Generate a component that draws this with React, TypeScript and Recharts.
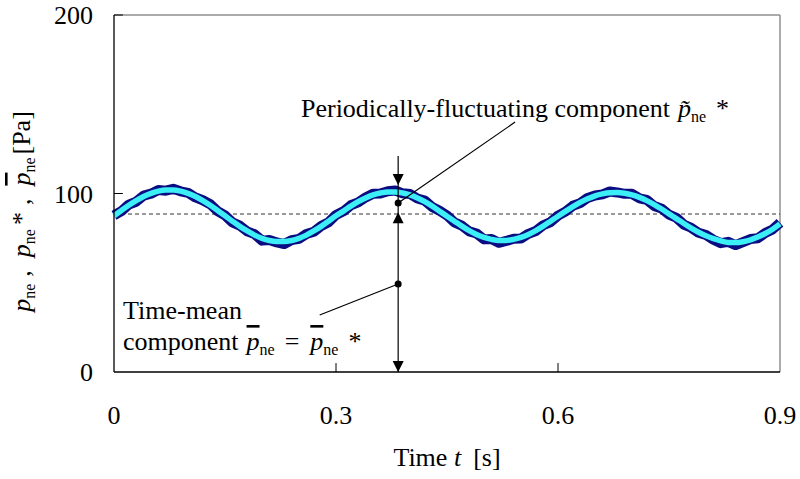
import React from 'react';
import { ComposedChart, Line, Scatter, XAxis, YAxis, ReferenceLine } from 'recharts';

const FONT = "'Liberation Serif', 'Times New Roman', serif";

// sample times [s]
const timeS = [
  0, 0.01, 0.02, 0.03, 0.04, 0.05, 0.06, 0.07, 0.08, 0.09,
  0.1, 0.11, 0.12, 0.13, 0.14, 0.15, 0.16, 0.17, 0.18, 0.19,
  0.2, 0.21, 0.22, 0.23, 0.24, 0.25, 0.26, 0.27, 0.28, 0.29,
  0.3, 0.31, 0.32, 0.33, 0.34, 0.35, 0.36, 0.37, 0.38, 0.39,
  0.4, 0.41, 0.42, 0.43, 0.44, 0.45, 0.46, 0.47, 0.48, 0.49,
  0.5, 0.51, 0.52, 0.53, 0.54, 0.55, 0.56, 0.57, 0.58, 0.59,
  0.6, 0.61, 0.62, 0.63, 0.64, 0.65, 0.66, 0.67, 0.68, 0.69,
  0.7, 0.71, 0.72, 0.73, 0.74, 0.75, 0.76, 0.77, 0.78, 0.79,
  0.8, 0.81, 0.82, 0.83, 0.84, 0.85, 0.86, 0.87, 0.88, 0.89,
  0.9,
];

// measured p_ne [Pa] (noisy, dark blue)
const rawPressure = [
  87.8, 90.1, 93.8, 95.4, 98.8, 99.9, 101.9, 101.6, 102.6, 101.2,
  100.4, 97.8, 96.2, 94.0, 90.1, 87.8, 83.8, 82.0, 78.8, 77.2,
  73.6, 74.0, 72.6, 71.7, 73.9, 74.6, 77.3, 78.6, 81.8, 83.9,
  88.0, 90.0, 93.4, 95.0, 97.8, 99.9, 100.0, 101.3, 101.7, 100.1,
  99.7, 97.2, 96.0, 92.4, 90.3, 87.7, 83.8, 82.0, 78.8, 77.6,
  74.3, 74.5, 72.4, 73.4, 74.7, 74.8, 77.4, 79.0, 82.2, 84.0,
  87.6, 89.8, 93.1, 94.6, 97.5, 98.9, 99.5, 101.1, 100.6, 99.8,
  99.8, 97.3, 96.4, 93.0, 91.5, 88.2, 86.4, 82.6, 80.8, 78.0,
  76.7, 74.1, 72.2, 72.9, 71.1, 72.8, 74.5, 74.9, 77.9, 79.9,
  83.6,
];

// phase-averaged p_ne* [Pa] (cyan)
const smoothPressure = [
  87.5, 90.5, 93.4, 96.0, 98.3, 100.1, 101.3, 101.9, 101.9, 101.3,
  100.1, 98.3, 96.0, 93.4, 90.5, 87.5, 84.5, 81.6, 79.0, 76.7,
  74.9, 73.7, 73.1, 73.1, 73.7, 74.9, 76.7, 79.0, 81.6, 84.5,
  87.5, 90.1, 92.9, 95.4, 97.5, 99.2, 100.3, 100.9, 100.9, 100.3,
  99.2, 97.5, 95.4, 92.9, 90.1, 87.3, 84.5, 81.7, 79.2, 77.1,
  75.4, 74.3, 73.7, 73.7, 74.3, 75.4, 77.1, 79.2, 81.7, 84.5,
  87.3, 90.0, 92.6, 95.0, 97.0, 98.7, 99.8, 100.4, 100.5, 100.1,
  99.2, 97.8, 96.0, 93.8, 91.3, 88.6, 85.9, 83.2, 80.6, 78.3,
  76.3, 74.7, 73.5, 72.6, 72.5, 73.0, 74.0, 75.6, 77.6, 80.0,
  83.0,
];

const meanPressure = 88.5;
const xTicks = [0, 0.3, 0.6, 0.9];
const yTicks = [0, 100, 200];

// annotation geometry in data units
const markerTime = 0.384;
const markerTop = 121;
const arrowTips = [
  { t: markerTime, v: 104.8, dir: 'down' },
  { t: markerTime, v: 89.5, dir: 'up' },
  { t: markerTime, v: 0, dir: 'down' },
];
const dots = [
  { t: markerTime, v: 94.7 },
  { t: markerTime, v: 49.3 },
];
const leaderUpper = [{ x: markerTime, y: 94.7 }, { x: 0.542, y: 140 }];
const leaderLower = [{ x: markerTime, y: 49.3 }, { x: 0.278, y: 31.9 }];
const textAnchors = [
  { t: 0.2527, v: 142.9, id: 'periodic' },
  { t: 0.0122, v: 29.7, id: 'mean1' },
  { t: 0.0122, v: 12.3, id: 'mean2' },
];

const series = timeS.map((t, i) => ({ t, raw: rawPressure[i], smooth: smoothPressure[i] }));

const ArrowShape = (props: any) => {
  const { cx, cy, payload } = props;
  const h = 11;
  const w = 5.5;
  const pts = payload.dir === 'down'
    ? `${cx},${cy} ${cx - w},${cy - h} ${cx + w},${cy - h}`
    : `${cx},${cy} ${cx - w},${cy + h} ${cx + w},${cy + h}`;
  return <polygon points={pts} fill="#000" />;
};

const DotShape = (props: any) => <circle cx={props.cx} cy={props.cy} r={3.5} fill="#000" />;

const TextShape = (props: any) => {
  const { cx, cy, payload } = props;
  if (payload.id === 'periodic') {
    return (
      <text x={cx} y={cy} fontFamily={FONT} fontSize={26} fill="#000">
        Periodically-fluctuating component
        <tspan fontStyle="italic" dx={8}>p&#771;</tspan>
        <tspan fontSize={16} dy={5}>ne</tspan>
        <tspan dy={-5} dx={10}>*</tspan>
      </text>
    );
  }
  if (payload.id === 'mean1') {
    return (
      <text x={cx} y={cy} fontFamily={FONT} fontSize={26} fill="#000">Time-mean</text>
    );
  }
  return (
    <text x={cx} y={cy} fontFamily={FONT} fontSize={26} fill="#000">
      component
      <tspan fontStyle="italic" textDecoration="overline" dx={8}>p</tspan>
      <tspan fontSize={16} dy={5}>ne</tspan>
      <tspan dy={-5} dx={10}>=</tspan>
      <tspan fontStyle="italic" textDecoration="overline" dx={11}>p</tspan>
      <tspan fontSize={16} dy={5}>ne</tspan>
      <tspan dy={-5} dx={10}>*</tspan>
    </text>
  );
};

const XTitle = (props: any) => {
  const vb = props.viewBox;
  return (
    <text x={vb.x + vb.width / 2} y={vb.y + 94} textAnchor="middle" fontFamily={FONT} fontSize={26} fill="#000">
      Time <tspan fontStyle="italic">t</tspan><tspan dx={12}>[s]</tspan>
    </text>
  );
};

const YTitle = (props: any) => {
  const vb = props.viewBox;
  const x = 30;
  const y = vb.y + vb.height / 2 + 18;
  return (
    <text x={x} y={y} transform={`rotate(-90, ${x}, ${y})`} textAnchor="middle" fontFamily={FONT} fontSize={26} fill="#000">
      <tspan fontStyle="italic">p</tspan>
      <tspan fontSize={16} dy={5}>ne</tspan>
      <tspan dy={-5} dx={7}>,</tspan>
      <tspan fontStyle="italic" dx={13}>p</tspan>
      <tspan fontSize={16} dy={5}>ne</tspan>
      <tspan dy={-5} dx={4}>*</tspan>
      <tspan dx={7}>,</tspan>
      <tspan fontStyle="italic" textDecoration="overline" dx={13}>p</tspan>
      <tspan fontSize={16} dy={5}>ne</tspan>
      <tspan dy={-5} dx={3}>[Pa]</tspan>
    </text>
  );
};

export default function App() {
  return (
    <div style={{ position: 'absolute', left: 0, top: 0, width: 800, height: 479, background: '#fff', fontFamily: FONT }}>
      <ComposedChart
        width={800}
        height={479}
        data={series}
        margin={{ top: 15, right: 20, bottom: 67, left: 54 }}
      >
        <XAxis
          dataKey="t"
          type="number"
          domain={[0, 0.9]}
          ticks={xTicks}
          tickLine={false}
          tickSize={0}
          tickMargin={34}
          height={40}
          axisLine={{ stroke: '#000', strokeWidth: 1.3 }}
          tick={{ fontSize: 26, fill: '#000', fontFamily: FONT }}
          label={XTitle}
        />
        <YAxis
          type="number"
          domain={[0, 200]}
          ticks={yTicks}
          tickLine={false}
          tickSize={0}
          tickMargin={21}
          width={60}
          axisLine={{ stroke: '#000', strokeWidth: 1.3 }}
          tick={{ fontSize: 26, fill: '#000', fontFamily: FONT }}
          label={YTitle}
        />
        {/* plot frame: top and right edges */}
        <ReferenceLine y={200} stroke="#8f8f8f" strokeWidth={1.5} />
        <ReferenceLine x={0.9} stroke="#8f8f8f" strokeWidth={1.5} />
        {/* inward tick marks */}
        <ReferenceLine segment={[{ x: 0.3, y: 0 }, { x: 0.3, y: 5 }]} stroke="#000" />
        <ReferenceLine segment={[{ x: 0.6, y: 0 }, { x: 0.6, y: 5 }]} stroke="#000" />
        <ReferenceLine segment={[{ x: 0, y: 100 }, { x: 0.012, y: 100 }]} stroke="#000" />
        <ReferenceLine segment={[{ x: 0, y: 200 }, { x: 0.012, y: 200 }]} stroke="#000" />

        <ReferenceLine y={meanPressure} stroke="#333" strokeDasharray="4 3" strokeWidth={1} />

        <Line
          dataKey="raw"
          type="linear"
          stroke="#0b0b82"
          strokeWidth={10}
          strokeLinejoin="round"
          dot={false}
          isAnimationActive={false}
        />
        <Line
          dataKey="smooth"
          type="monotone"
          stroke="#3ceef5"
          strokeWidth={5.5}
          dot={false}
          isAnimationActive={false}
        />

        <ReferenceLine segment={[{ x: markerTime, y: markerTop }, { x: markerTime, y: 0 }]} stroke="#000" strokeWidth={1.2} />
        <ReferenceLine segment={leaderUpper} stroke="#000" strokeWidth={1.2} />
        <ReferenceLine segment={leaderLower} stroke="#000" strokeWidth={1.2} />

        <Scatter data={arrowTips} dataKey="v" shape={ArrowShape} isAnimationActive={false} />
        <Scatter data={dots} dataKey="v" shape={DotShape} isAnimationActive={false} />
        <Scatter data={textAnchors} dataKey="v" shape={TextShape} isAnimationActive={false} />
      </ComposedChart>
    </div>
  );
}
